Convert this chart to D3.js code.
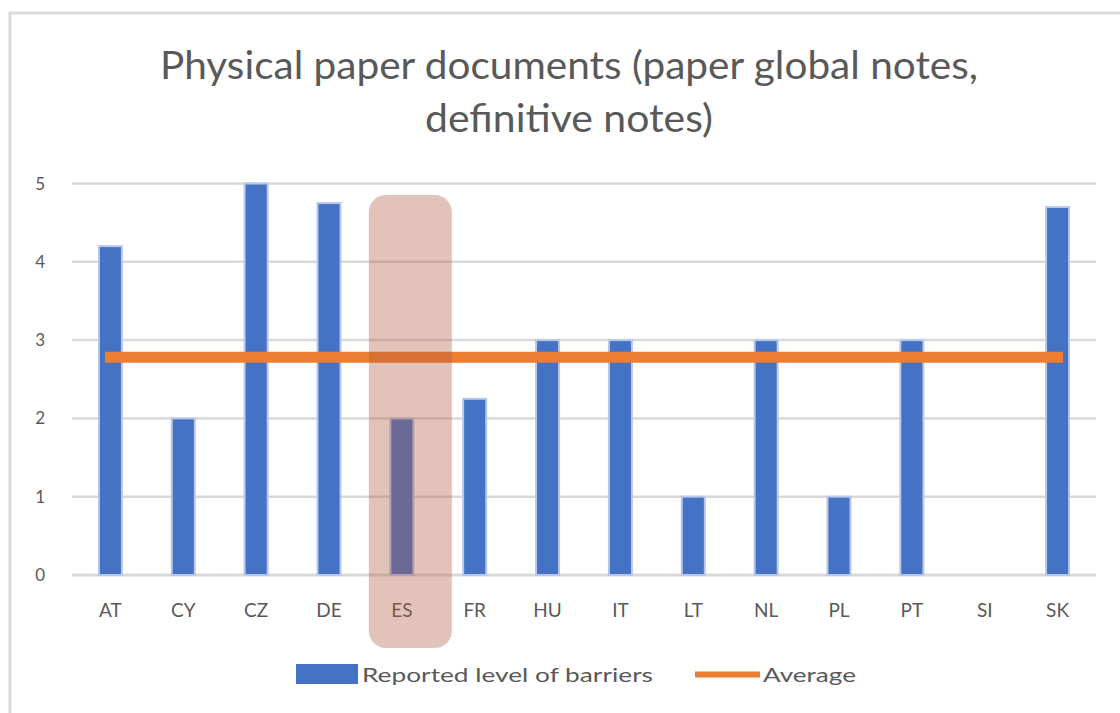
<!DOCTYPE html>
<html>
<head>
<meta charset="utf-8">
<script src="https://cdn.jsdelivr.net/npm/d3@7"></script>
<style>
  body { margin: 0; background: #fff; }
  svg text { font-family: Lato, "Open Sans", sans-serif; fill: #595959; }
</style>
</head>
<body>
<div id="chart"></div>
<script>
// chart data
const countries = ['AT', 'CY', 'CZ', 'DE', 'ES', 'FR', 'HU', 'IT', 'LT', 'NL', 'PL', 'PT', 'SI', 'SK'];
const barrierLevels = [4.2, 2, 5, 4.75, 2, 2.25, 3, 3, 1, 3, 1, 3, 0, 4.7];
const averageLevels = [2.78, 2.78, 2.78, 2.78, 2.78, 2.78, 2.78, 2.78, 2.78, 2.78, 2.78, 2.78, 2.78, 2.78];
const yTicks = [0, 1, 2, 3, 4, 5];
const titleLines = ['Physical paper documents (paper global notes,', 'definitive notes)'];
const legendLabels = ['Reported level of barriers', 'Average'];
const highlighted = 'ES';

let width = 1120;
let height = 713;

const svg = d3.select('#chart').append('svg')
    .attr('width', width)
    .attr('height', height);

// outer frame of the chart area
svg.append('path')
    .attr('d', 'M10,713 L10,13 L1120,13')
    .attr('fill', 'none')
    .attr('stroke', '#d9d9d9')
    .attr('stroke-width', 3);

// title, two lines
const titleWidths = [818, 288];
svg.selectAll('text.title')
    .data(titleLines)
    .enter()
    .append('text')
    .attr('class', 'title')
    .attr('x', 569)
    .attr('y', (d, i) => 79 + i * 53)
    .attr('text-anchor', 'middle')
    .attr('font-size', 38)
    .attr('textLength', (d, i) => titleWidths[i])
    .attr('lengthAdjust', 'spacingAndGlyphs')
    .text(d => d);

let x = d3.scaleBand()
    .domain(countries)
    .range([74, 1094])
    .paddingInner(0.684)
    .paddingOuter(0.342);

let y = d3.scaleLinear()
    .domain([0, 5])
    .range([575, 183.5]);

// gridlines
svg.append('g')
    .selectAll('line')
    .data(yTicks)
    .enter()
    .append('line')
    .attr('x1', 72)
    .attr('x2', 1096)
    .attr('y1', d => y(d))
    .attr('y2', d => y(d))
    .attr('stroke', '#d9d9d9')
    .attr('stroke-width', d => d === 0 ? 3 : 2.5);

// y labels
svg.append('g')
    .selectAll('text')
    .data(yTicks)
    .enter()
    .append('text')
    .attr('x', 45)
    .attr('y', d => y(d) + 6)
    .attr('text-anchor', 'end')
    .attr('font-size', 17)
    .text(d => d);

// bars
svg.append('g')
    .selectAll('rect')
    .data(countries)
    .enter()
    .append('rect')
    .attr('x', d => x(d))
    .attr('y', (d, i) => y(barrierLevels[i]))
    .attr('width', x.bandwidth())
    .attr('height', (d, i) => y(0) - y(barrierLevels[i]))
    .attr('fill', '#4472c4')
    .attr('stroke', (d, i) => barrierLevels[i] > 0 ? '#b9c7e8' : 'none')
    .attr('stroke-width', 2);

// x labels
svg.append('g')
    .selectAll('text')
    .data(countries)
    .enter()
    .append('text')
    .attr('x', d => x(d) + x.bandwidth() / 2)
    .attr('y', 617)
    .attr('text-anchor', 'middle')
    .attr('font-size', 19)
    .text(d => d);

// average line
let line = d3.line()
    .x((d, i) => x(countries[i]) + x.bandwidth() / 2)
    .y(d => y(d));

svg.append('path')
    .datum(averageLevels)
    .attr('d', line)
    .attr('fill', 'none')
    .attr('stroke', '#ed7d31')
    .attr('stroke-width', 11)
    .attr('stroke-linecap', 'square');

// highlight box over ES
const hx = x(highlighted) + x.bandwidth() / 2;
svg.append('rect')
    .attr('x', hx - 33)
    .attr('y', 195)
    .attr('width', 83)
    .attr('height', 453)
    .attr('rx', 17)
    .attr('fill', 'rgb(175,88,62)')
    .attr('fill-opacity', 0.36);

// legend
const legend = svg.append('g');
legend.append('rect')
    .attr('x', 296)
    .attr('y', 664)
    .attr('width', 62)
    .attr('height', 20)
    .attr('fill', '#4472c4');
legend.append('text')
    .attr('x', 362)
    .attr('y', 682)
    .attr('font-size', 20)
    .attr('textLength', 291)
    .attr('lengthAdjust', 'spacingAndGlyphs')
    .text(legendLabels[0]);
legend.append('line')
    .attr('x1', 695)
    .attr('x2', 760)
    .attr('y1', 674.5)
    .attr('y2', 674.5)
    .attr('stroke', '#ed7d31')
    .attr('stroke-width', 6);
legend.append('text')
    .attr('x', 763)
    .attr('y', 682)
    .attr('font-size', 20)
    .attr('textLength', 93)
    .attr('lengthAdjust', 'spacingAndGlyphs')
    .text(legendLabels[1]);
</script>
</body>
</html>
